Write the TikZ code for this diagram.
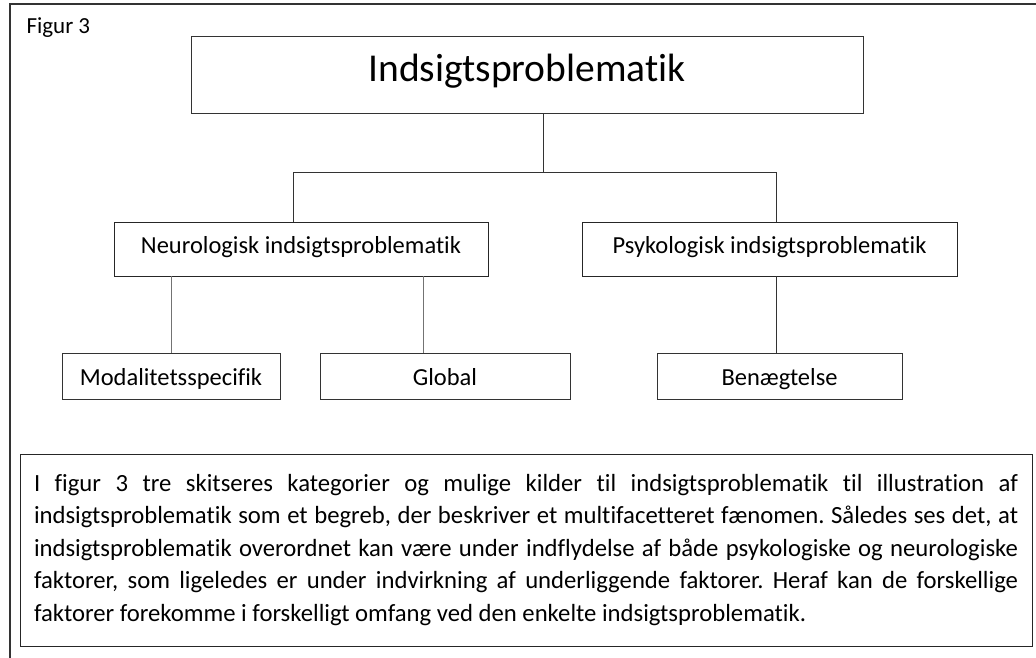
\documentclass[tikz,border=0pt]{standalone}
\usepackage{fontspec}
\setmainfont{Carlito}[Ligatures=NoCommon]
\usepackage{tikz}
\usetikzlibrary{positioning}
\frenchspacing
\tikzstyle{line} = [draw=black!80, line width=0.9pt]
\tikzstyle{greyline} = [draw=black!55, line width=0.9pt]
\tikzstyle{mainbox} = [
rectangle, draw=black!80, line width=0.9pt, minimum width=672pt, minimum height=77pt,
text height=22pt, text depth=8pt, text centered, font=\fontsize{39.5}{46}\selectfont
]
\tikzstyle{catbox} = [
rectangle, draw=black!85, line width=0.9pt, minimum width=374pt, minimum height=54pt,
text height=13pt, text depth=5pt, text centered, font=\fontsize{24.5}{29}\selectfont
]
\tikzstyle{subbox} = [
rectangle, draw=black!80, line width=0.9pt, minimum height=46pt,
text height=23pt, text depth=5pt, text centered, font=\fontsize{24.5}{29}\selectfont
]
\tikzstyle{textbox} = [
rectangle, draw=black!85, line width=0.9pt, minimum width=1012pt, minimum height=192pt,
text width=984pt, align=justify, inner sep=0pt, font=\fontsize{24.7}{32.5}\selectfont
]

\begin{document}
\begin{tikzpicture}[node distance=127pt]
			\useasboundingbox (0,0) rectangle (1036pt,-658pt);
			% Ramme
			\draw [line, line width=1.2pt] (10pt,-658pt) -- (10pt,-4pt) -- (1036pt,-4pt);
			\node (figur) [anchor=west, font=\fontsize{23}{27}\selectfont] at (23pt,-28pt) {Figur 3};

			% Kasser
			\node (Indsigt) [mainbox] at (527pt,-75pt) {Indsigtsproblematik};
			\node (Neuro) [catbox, below of=Indsigt, xshift=-226pt, yshift=-47pt] {Neurologisk indsigtsproblematik};
			\node (Psyk) [catbox, below of=Indsigt, xshift=242.5pt, yshift=-47pt, minimum width=375pt] {Psykologisk indsigtsproblematik};
			\node (Modal) [subbox, below of=Neuro, xshift=-130pt, minimum width=218pt] {Modalitetsspecifik};
			\node (Global) [subbox, below of=Neuro, xshift=144pt, minimum width=250pt] {Global};
			\node (Benaeg) [subbox, below of=Psyk, xshift=10pt, minimum width=245pt] {Benægtelse};
			\node (Forklaring) [textbox, below of=Global, xshift=81pt, yshift=-47pt] {I figur 3 tre skitseres kategorier og mulige kilder til indsigtsproblematik til illustration af\linebreak
				indsigtsproblematik som et begreb, der beskriver et multifacetteret fænomen. Således ses det, at\linebreak
				indsigtsproblematik overordnet kan være under indflydelse af både psykologiske og neurologiske\linebreak
				faktorer, som ligeledes er under indvirkning af underliggende faktorer. Heraf kan de forskellige\linebreak
				faktorer forekomme i forskelligt omfang ved den enkelte indsigtsproblematik.};

			% Forbindelser
			\coordinate (split) at ([xshift=16pt, yshift=-58pt]Indsigt.south);
			\draw [line] ([xshift=16pt]Indsigt.south) -- (split);
			\draw [line] ([xshift=-8pt]Neuro.north) |- (split) -| ([xshift=6.5pt]Psyk.north);
			\draw [greyline] (Modal.north) -- (Modal.north |- Neuro.south);
			\draw [greyline] ([xshift=-22pt]Global.north) -- ([xshift=-22pt]Global.north |- Neuro.south);
			\draw [line] ([xshift=6.5pt]Psyk.south) -- ([xshift=6.5pt]Psyk.south |- Benaeg.north);

		\end{tikzpicture}
\end{document}
